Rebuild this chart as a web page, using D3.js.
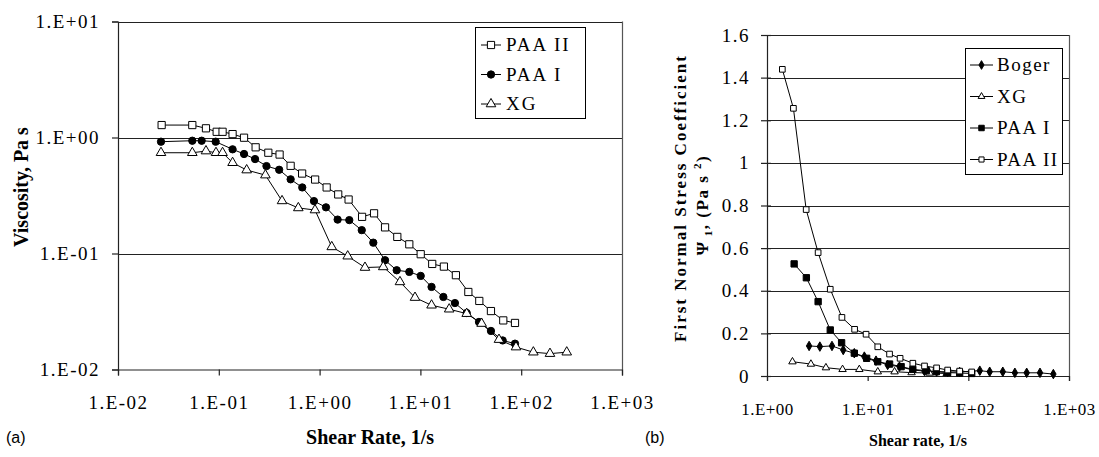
<!DOCTYPE html>
<html><head><meta charset="utf-8">
<script src="https://cdn.jsdelivr.net/npm/d3@7"></script>
<style>
body{margin:0;background:#fff;}
svg{display:block;}
text{font-family:"Liberation Serif","Times New Roman",serif;fill:#000;}
</style></head><body>
<svg id="chart" width="1099" height="457"></svg>
<script>
// ---------- Panel (a): viscosity vs shear rate (log-log) ----------
const ratePAA2 = [0.0271,0.0546,0.0746,0.0953,0.109,0.137,0.178,0.232,0.310,0.401,0.516,0.671,0.903,1.175,1.53,1.94,2.64,3.47,4.46,5.90,7.76,10.07,13.1,17.1,22.5,29.9,38.4,50.1,66.4,86.8];
const viscPAA2 = [1.28,1.28,1.20,1.12,1.12,1.07,0.996,0.823,0.739,0.713,0.570,0.489,0.434,0.371,0.323,0.292,0.207,0.222,0.168,0.139,0.120,0.0986,0.0813,0.0771,0.065,0.0466,0.039,0.0319,0.0265,0.0252];
const ratePAA1 = [0.0267,0.0546,0.0676,0.0931,0.137,0.178,0.229,0.297,0.397,0.516,0.673,0.879,1.157,1.51,1.97,2.62,3.41,4.46,5.82,7.76,10.07,12.9,16.9,22.0,28.8,38.1,50.1,65.5,86.8];
const viscPAA1 = [0.920,0.938,0.938,0.920,0.791,0.721,0.652,0.567,0.527,0.436,0.371,0.283,0.250,0.196,0.194,0.159,0.124,0.0875,0.0717,0.0694,0.0641,0.0515,0.0422,0.0374,0.0307,0.0257,0.0215,0.0178,0.0167];
const rateXG = [0.0267,0.0546,0.0746,0.0938,0.109,0.137,0.189,0.290,0.424,0.615,0.900,1.32,1.90,2.82,4.28,6.27,8.84,12.9,19.3,28.8,40.5,60.2,88.8,132,193,283];
const viscXG = [0.739,0.739,0.764,0.739,0.739,0.606,0.524,0.474,0.284,0.247,0.237,0.114,0.0948,0.0757,0.0766,0.0569,0.0417,0.0358,0.0331,0.0303,0.0249,0.0181,0.0156,0.0141,0.0137,0.0141];
const xTicksA = [1e-2,1e-1,1e0,1e1,1e2,1e3];
const xLabelsA = ["1.E-02","1.E-01","1.E+00","1.E+01","1.E+02","1.E+03"];
const yTicksA = [1e-2,1e-1,1e0,1e1];
const yLabelsA = ["1.E-02","1.E-01","1.E+00","1.E+01"];
const legendA = ["PAA II","PAA I","XG"];

// ---------- Panel (b): first normal stress coefficient ----------
const rateBoger = [2.62,3.35,4.42,5.72,7.37,9.27,12.1,15.8,20.7,28.1,36.7,48.4,62.3,82,130,163,220,290,380,515,699];
const psiBoger = [0.141,0.138,0.141,0.122,0.107,0.091,0.072,0.052,0.044,0.028,0.023,0.021,0.019,0.019,0.025,0.020,0.020,0.015,0.015,0.015,0.009];
const rateXGb = [1.79,2.73,3.85,5.63,8.26,12.6,18.5,27.3,41.2,61];
const psiXG = [0.067,0.056,0.039,0.031,0.031,0.020,0.020,0.016,0.014,0.012];
const ratePAA1b = [1.86,2.46,3.22,4.25,5.51,7.37,9.77,12.6,16.5,21.5,28.1,38.2,48.1,62.3,82,108];
const psiPAA1 = [0.526,0.461,0.349,0.216,0.156,0.107,0.083,0.067,0.056,0.044,0.031,0.025,0.020,0.016,0.014,0.012];
const ratePAA2b = [1.42,1.83,2.45,3.22,4.25,5.55,7.42,9.64,12.6,16.5,21.0,28.1,36.7,48.4,62.3,82,108];
const psiPAA2 = [1.439,1.256,0.781,0.579,0.407,0.275,0.219,0.196,0.137,0.103,0.083,0.060,0.047,0.038,0.028,0.023,0.019];
const xTicksB = [1e0,1e1,1e2,1e3];
const xLabelsB = ["1.E+00","1.E+01","1.E+02","1.E+03"];
const yTicksB = [0,0.2,0.4,0.6,0.8,1,1.2,1.4,1.6];
const yLabelsB = ["0","0.2","0.4","0.6","0.8","1","1.2","1.4","1.6"];
const legendB = ["Boger","XG","PAA I","PAA II"];

const svg = d3.select("#chart");
const LS = "1.5px";

function marker(g, type, x, y, size, filled) {
  const sym = {square: d3.symbolSquare, circle: d3.symbolCircle, triangle: d3.symbolTriangle, diamond: d3.symbolDiamond}[type];
  g.append("path")
    .attr("d", d3.symbol().type(sym).size(size)())
    .attr("transform", `translate(${x},${y})`)
    .attr("fill", filled ? "#000" : "#fff")
    .attr("stroke", "#000").attr("stroke-width", 1);
}

function series(g, xs, ys, xScale, yScale, type, size, filled) {
  const pts = xs.map((d, i) => [xScale(d), yScale(ys[i])]);
  g.append("path").attr("d", d3.line()(pts))
    .attr("fill", "none").attr("stroke", "#000").attr("stroke-width", 1);
  pts.forEach(p => marker(g, type, p[0], p[1], size, filled));
}

// ===== Panel (a) =====
const xA = d3.scaleLog().domain([1e-2, 1e3]).range([118, 622]);
const yA = d3.scaleLog().domain([1e-2, 1e1]).range([369.5, 21.5]);
const gA = svg.append("g");

// horizontal gridlines and frame
gA.selectAll("line.grid").data(yTicksA.slice(1)).join("line")
  .attr("x1", 118).attr("x2", 622)
  .attr("y1", d => Math.round(yA(d)) + 0.5).attr("y2", d => Math.round(yA(d)) + 0.5)
  .attr("stroke", "#222").attr("stroke-width", 1.2);
gA.append("line").attr("x1", 622.5).attr("x2", 622.5).attr("y1", yA(1e1)).attr("y2", yA(1e-2))
  .attr("stroke", "#555").attr("stroke-width", 1.2);

const axA_x = gA.append("g").attr("transform", `translate(0,${yA(1e-2)})`)
  .call(d3.axisBottom(xA).tickValues(xTicksA).tickFormat((d, i) => xLabelsA[i]).tickSize(6).tickPadding(20));
const axA_y = gA.append("g").attr("transform", `translate(118,0)`)
  .call(d3.axisLeft(yA).tickValues(yTicksA).tickFormat((d, i) => yLabelsA[i]).tickSize(6).tickPadding(12));
[axA_x, axA_y].forEach(ax => {
  ax.select(".domain").attr("stroke", "#222").attr("stroke-width", 1.2);
  ax.selectAll(".tick line").attr("stroke", "#222").attr("stroke-width", 1.2);
  ax.selectAll("text").style("font-family", "Liberation Serif").style("font-size", "19px")
    .style("letter-spacing", LS).attr("fill", "#000");
});

series(gA, ratePAA2, viscPAA2, xA, yA, "square", 52, false);
series(gA, ratePAA1, viscPAA1, xA, yA, "circle", 42, true);
series(gA, rateXG, viscXG, xA, yA, "triangle", 40, false);

// legend (a)
const legA = gA.append("g");
legA.append("rect").attr("x", 475.5).attr("y", 27.5).attr("width", 110).attr("height", 91)
  .attr("fill", "#fff").attr("stroke", "#000").attr("stroke-width", 1);
const legAStyles = [["square", 52, false], ["circle", 42, true], ["triangle", 40, false]];
legendA.forEach((name, i) => {
  const y = 45 + i * 29.5;
  legA.append("line").attr("x1", 481).attr("x2", 501).attr("y1", y).attr("y2", y).attr("stroke", "#000");
  marker(legA, legAStyles[i][0], 491, y, legAStyles[i][1], legAStyles[i][2]);
  legA.append("text").attr("x", 506).attr("y", y + 6).text(name)
    .style("font-size", "19px").style("letter-spacing", "2px");
});

// titles (a)
gA.append("text").attr("transform", "translate(28,187) rotate(-90)").attr("text-anchor", "middle")
  .style("font-size", "20px").style("font-weight", "bold").text("Viscosity, Pa s");
gA.append("text").attr("x", 370).attr("y", 444).attr("text-anchor", "middle")
  .style("font-size", "20px").style("font-weight", "bold").text("Shear Rate, 1/s");
svg.append("text").attr("x", 6).attr("y", 443).style("font-family", "Liberation Sans")
  .style("font-size", "16px").text("(a)");

// ===== Panel (b) =====
const xB = d3.scaleLog().domain([1, 1e3]).range([767, 1069]);
const yB = d3.scaleLinear().domain([0, 1.6]).range([376, 35]);
const gB = svg.append("g");

gB.selectAll("line.grid").data(yTicksB.slice(1)).join("line")
  .attr("x1", 767).attr("x2", 1069)
  .attr("y1", d => Math.round(yB(d)) + 0.5).attr("y2", d => Math.round(yB(d)) + 0.5)
  .attr("stroke", "#222").attr("stroke-width", 1.2);
gB.append("line").attr("x1", 1069.5).attr("x2", 1069.5).attr("y1", yB(1.6)).attr("y2", yB(0))
  .attr("stroke", "#555").attr("stroke-width", 1.2);

const axB_x = gB.append("g").attr("transform", `translate(0,${yB(0)})`)
  .call(d3.axisBottom(xB).tickValues(xTicksB).tickFormat((d, i) => xLabelsB[i]).tickSize(5).tickPadding(22));
const axB_y = gB.append("g").attr("transform", `translate(767,0)`)
  .call(d3.axisLeft(yB).tickValues(yTicksB).tickFormat((d, i) => yLabelsB[i]).tickSize(6).tickPadding(11));
axB_y.selectAll(".tick line").attr("x2", -6).attr("x1", 4);
[axB_x, axB_y].forEach(ax => {
  ax.select(".domain").attr("stroke", "#222").attr("stroke-width", 1.2);
  ax.selectAll(".tick line").attr("stroke", "#222").attr("stroke-width", 1.2);
});
axB_y.selectAll("text").style("font-family", "Liberation Serif").style("font-size", "19px")
  .style("letter-spacing", LS).attr("fill", "#000");
axB_x.selectAll("text").style("font-family", "Liberation Serif").style("font-size", "17px")
  .style("letter-spacing", "0.5px").attr("fill", "#000");

series(gB, rateBoger, psiBoger, xB, yB, "diamond", 26, true);
series(gB, rateXGb, psiXG, xB, yB, "triangle", 24, false);
series(gB, ratePAA1b, psiPAA1, xB, yB, "square", 40, true);
series(gB, ratePAA2b, psiPAA2, xB, yB, "square", 32, false);

// legend (b)
const legB = gB.append("g");
legB.append("rect").attr("x", 965.5).attr("y", 48.5).attr("width", 97).attr("height", 126)
  .attr("fill", "#fff").attr("stroke", "#000").attr("stroke-width", 1);
const legBStyles = [["diamond", 22, true], ["triangle", 20, false], ["square", 30, true], ["square", 26, false]];
legendB.forEach((name, i) => {
  const y = 65 + i * 31.5;
  legB.append("line").attr("x1", 970).attr("x2", 993).attr("y1", y).attr("y2", y).attr("stroke", "#000");
  marker(legB, legBStyles[i][0], 981.5, y, legBStyles[i][1], legBStyles[i][2]);
  legB.append("text").attr("x", 997).attr("y", y + 6).text(name)
    .style("font-size", "19px").style("letter-spacing", LS);
});

// titles (b)
gB.append("text").attr("transform", "translate(686,198) rotate(-90)").attr("text-anchor", "middle")
  .style("font-size", "17px").style("font-weight", "bold").style("letter-spacing", "2px")
  .text("First Normal Stress Coefficient");
const t2 = gB.append("text").attr("transform", "translate(708,205) rotate(-90)").attr("text-anchor", "middle")
  .style("font-size", "17px").style("font-weight", "bold").style("letter-spacing", "1.5px");
t2.append("tspan").text("\u03A8");
t2.append("tspan").attr("dy", 4).style("font-size", "11px").text(" 1");
t2.append("tspan").attr("dy", -4).text(", (Pa s ");
t2.append("tspan").attr("dy", -7).style("font-size", "11px").text("2");
t2.append("tspan").attr("dy", 7).text(")");
gB.append("text").attr("x", 918).attr("y", 446).attr("text-anchor", "middle")
  .style("font-size", "16px").style("font-weight", "bold").text("Shear rate, 1/s");
svg.append("text").attr("x", 645).attr("y", 443).style("font-family", "Liberation Sans")
  .style("font-size", "16px").text("(b)");
</script>
</body></html>
